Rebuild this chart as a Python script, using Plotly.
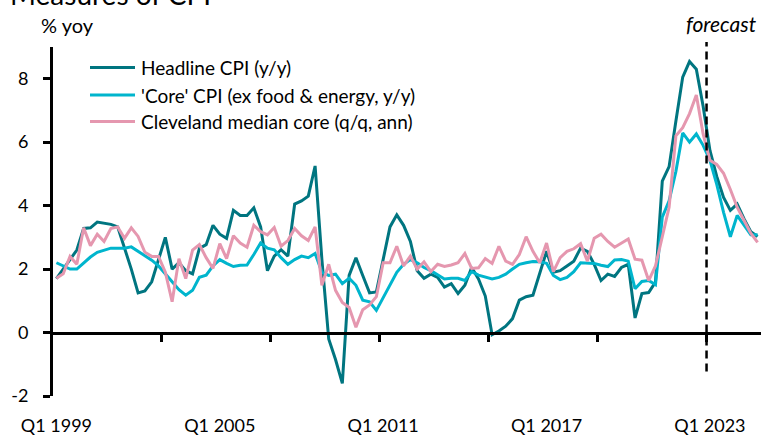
import plotly.graph_objects as go

# ---------------- data ----------------
years = list(range(1999, 2025))
quarters = [f"Q{q} {y}" for y in years for q in (1, 2, 3, 4)]

headline = [1.70, 2.00, 2.30, 2.60, 3.28, 3.30, 3.48, 3.45, 3.41, 3.33,
            2.70, 2.00, 1.25, 1.31, 1.60, 2.30, 3.00, 2.00, 2.20, 1.95,
            1.85, 2.65, 2.77, 3.38, 3.10, 2.97, 3.85, 3.69, 3.69, 3.93,
            3.33, 1.95, 2.41, 2.61, 2.41, 4.05, 4.15, 4.30, 5.25, 2.30,
            -0.20, -0.85, -1.60, 1.80, 2.36, 1.80, 1.25, 1.28, 2.26, 3.33,
            3.71, 3.38, 2.87, 1.95, 1.71, 1.84, 1.74, 1.43, 1.54, 1.23,
            1.49, 2.05, 1.69, 1.15, -0.07, 0.05, 0.20, 0.44, 1.02, 1.13,
            1.18, 1.90, 2.56, 1.90, 1.95, 2.10, 2.25, 2.66, 2.56, 2.15,
            1.64, 1.84, 1.77, 2.05, 2.15, 0.46, 1.23, 1.26, 1.59, 4.77,
            5.23, 6.67, 8.05, 8.54, 8.30, 7.13, 5.74, 4.92, 4.26, 3.85,
            4.05, 3.59, 3.18, 3.03]

core = [2.20, 2.10, 2.00, 2.00, 2.20, 2.38, 2.53, 2.60, 2.66, 2.66,
        2.66, 2.70, 2.56, 2.43, 2.28, 2.10, 1.85, 1.60, 1.35, 1.18,
        1.33, 1.74, 1.81, 2.10, 2.30, 2.18, 2.08, 2.12, 2.13, 2.46,
        2.82, 2.66, 2.61, 2.36, 2.15, 2.30, 2.41, 2.36, 2.49, 1.90,
        1.80, 1.84, 1.54, 1.71, 1.49, 1.02, 0.97, 0.70, 1.10, 1.49,
        1.90, 2.15, 2.30, 2.20, 2.05, 1.95, 1.83, 1.69, 1.71, 1.71,
        1.64, 1.92, 1.81, 1.74, 1.69, 1.74, 1.84, 2.00, 2.15, 2.20,
        2.24, 2.23, 2.18, 1.80, 1.67, 1.74, 1.92, 2.20, 2.20, 2.18,
        2.12, 2.08, 2.29, 2.30, 2.25, 1.38, 1.61, 1.64, 1.51, 3.64,
        4.15, 5.08, 6.29, 6.00, 6.26, 5.90, 5.43, 4.67, 3.79, 3.02,
        3.69, 3.38, 3.08, 3.08]

cleveland = [1.71, 1.85, 2.40, 2.15, 3.30, 2.74, 3.10, 2.87, 3.28, 3.33,
             2.97, 3.30, 3.03, 2.53, 2.40, 2.40, 1.90, 0.97, 2.33, 1.70,
             2.60, 2.77, 2.36, 2.02, 2.80, 2.33, 3.05, 2.82, 2.69, 3.38,
             3.18, 3.08, 3.31, 2.72, 2.90, 3.28, 3.05, 2.90, 3.33, 1.49,
             2.15, 1.33, 0.95, 0.79, 0.17, 0.72, 0.87, 1.13, 2.20, 2.20,
             2.72, 2.10, 2.41, 2.00, 2.23, 1.92, 2.15, 2.08, 2.13, 2.20,
             2.49, 2.02, 2.04, 2.33, 2.18, 2.72, 2.25, 2.15, 2.46, 3.02,
             2.56, 2.20, 2.82, 1.92, 2.36, 2.56, 2.64, 2.80, 2.25, 2.97,
             3.10, 2.87, 2.69, 2.82, 2.95, 2.31, 2.28, 1.64, 2.10, 3.02,
             3.95, 6.20, 6.46, 6.90, 7.49, 6.26, 5.43, 5.30, 5.02, 4.51,
             3.95, 3.54, 3.13, 2.84]

series_names = ["Headline CPI (y/y)",
                "'Core' CPI (ex food & energy, y/y)",
                "Cleveland median core (q/q, ann)"]
label_quarters = ["Q1 1999", "Q1 2005", "Q1 2011", "Q1 2017", "Q1 2023"]
forecast_start = "Q1 2023"
y_ticks = [-2, 0, 2, 4, 6, 8]

# ---------------- style ----------------
W, H = 763, 438
ML, MR, MT, MB = 53, 2, 47, 35
PW, PH = W - ML - MR, H - MT - MB
FONT = "Lato"
colors = ["#007580", "#00B5CD", "#E597AF"]


def px2x(px):
    return (px - ML) / PW


def py2y(py):
    return (H - MB - py) / PH


idx = list(range(len(quarters)))
fig = go.Figure()
for name, vals, col in zip(series_names, [headline, core, cleveland], colors):
    fig.add_trace(go.Scatter(x=idx, y=vals, mode="lines", name=name,
                             line=dict(color=col, width=3), showlegend=False))
# dummy trace to carry the zero-line category axis
fig.add_trace(go.Scatter(x=[], y=[], xaxis="x2", showlegend=False))

xr = [-0.5, len(quarters) - 0.5]
ymin, ymax = -2, 9
label_idx = [quarters.index(q) for q in label_quarters]
minor_ticks = [i - 0.5 for i in range(16, len(quarters), 16)]

fig.update_layout(
    width=W, height=H,
    margin=dict(l=ML, r=MR, t=MT, b=MB),
    paper_bgcolor="white", plot_bgcolor="white",
    font=dict(family=FONT, size=18, color="black"),
    xaxis=dict(range=xr, tickvals=label_idx, ticktext=label_quarters,
               showline=False, ticks="", showgrid=False, zeroline=False,
               ticklabelstandoff=17, tickfont=dict(size=18)),
    xaxis2=dict(range=xr, overlaying="x", anchor="free",
                position=(0 - ymin) / (ymax - ymin),
                showline=True, linecolor="black", linewidth=3,
                ticks="outside", ticklen=7, tickwidth=3, tickcolor="black",
                tickvals=minor_ticks, showticklabels=False,
                showgrid=False, zeroline=False),
    yaxis=dict(range=[ymin, ymax], tickvals=y_ticks,
               ticktext=[str(v) for v in y_ticks],
               showline=True, linecolor="black", linewidth=3,
               ticks="outside", ticklen=7, tickwidth=3, tickcolor="black",
               showgrid=False, zeroline=False, ticklabelstandoff=11,
               tickfont=dict(size=18)),
)

# forecast divider
fx = quarters.index(forecast_start) - 0.5
fig.add_shape(type="line", xref="x", yref="paper", x0=fx, x1=fx,
              y0=py2y(378), y1=py2y(42),
              line=dict(color="black", width=2.5, dash="8px,5px"))

annots = [
    dict(text="Measures of CPI", x=px2x(8), y=py2y(12), xanchor="left",
         yanchor="bottom", font=dict(size=28)),
    dict(text="% yoy", x=px2x(39), y=py2y(25), xanchor="left",
         yanchor="middle", font=dict(size=20)),
    dict(text="<i>forecast</i>", x=px2x(759), y=py2y(23), xanchor="right",
         yanchor="middle", font=dict(size=21)),
]
# custom legend
rows = [68, 96, 123]
for name, col, ry in zip(series_names, colors, rows):
    fig.add_shape(type="line", xref="paper", yref="paper",
                  x0=px2x(90), x1=px2x(135), y0=py2y(ry), y1=py2y(ry),
                  line=dict(color=col, width=3))
    annots.append(dict(text=name, x=px2x(139), y=py2y(ry), xanchor="left",
                       yanchor="middle", font=dict(size=19)))

for a in annots:
    a.update(xref="paper", yref="paper", showarrow=False)
    fig.add_annotation(**a)

fig.write_html("out.html",
               config={"displayModeBar": False},
               post_script="document.body.style.margin='0px';"
                           "document.body.style.overflow='hidden';")
